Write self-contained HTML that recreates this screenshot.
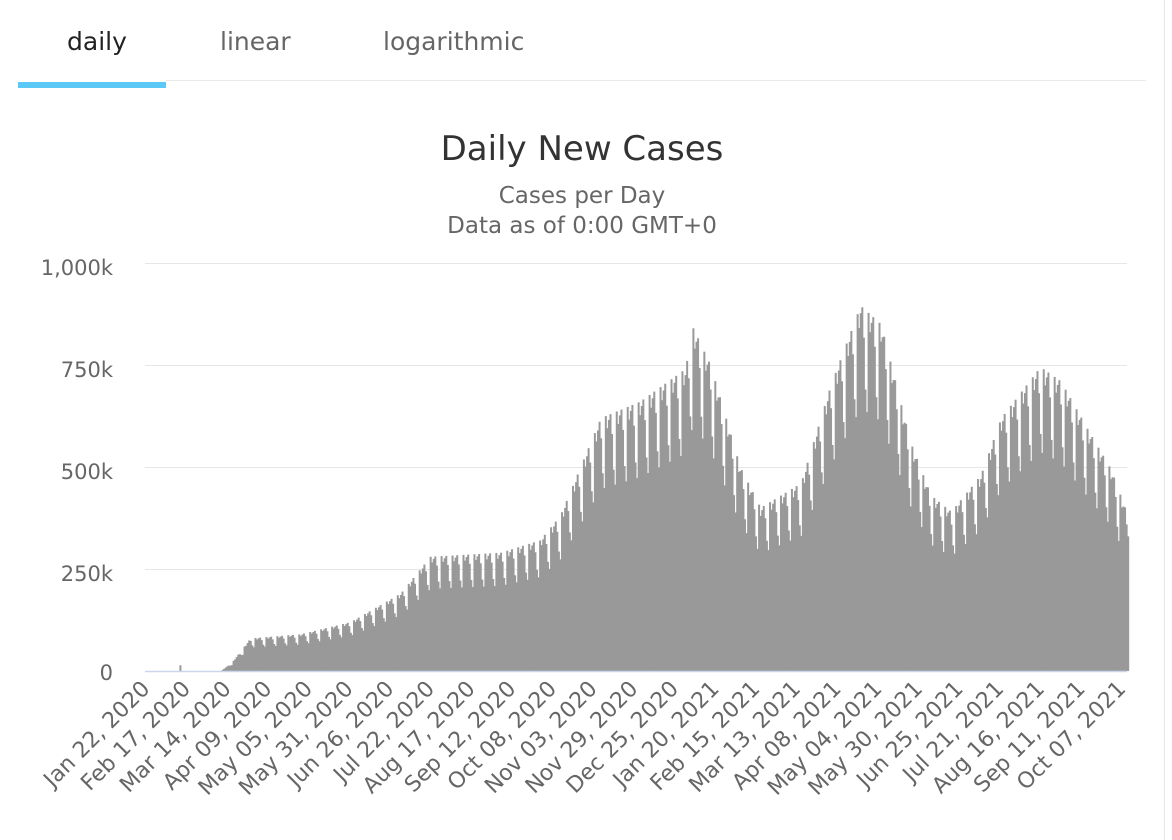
<!DOCTYPE html>
<html><head><meta charset="utf-8"><style>
html,body{margin:0;padding:0;background:#fff;width:1172px;height:840px;overflow:hidden;font-family:"DejaVu Sans","Liberation Sans",sans-serif}
.tab{position:absolute;top:27px;font-size:25px;color:#666}
</style></head><body>
<div class="tab" style="left:67px;color:#222">daily</div>
<div class="tab" style="left:220px">linear</div>
<div class="tab" style="left:383px">logarithmic</div>
<div style="position:absolute;left:166px;top:80px;width:980px;height:1px;background:#eaeaea"></div>
<div style="position:absolute;left:18px;top:82px;width:148px;height:6px;background:#5bc8f5"></div>
<div style="position:absolute;left:1164px;top:0;width:1px;height:840px;background:#e6e6e6"></div>
<svg id="s" width="1172" height="840" style="position:absolute;left:0;top:0" font-family="DejaVu Sans, Liberation Sans, sans-serif">
<text x="582" y="160" text-anchor="middle" font-size="34" fill="#333">Daily New Cases</text>
<text x="582" y="203" text-anchor="middle" font-size="23" fill="#666">Cases per Day</text>
<text x="582" y="233" text-anchor="middle" font-size="23" fill="#666">Data as of 0:00 GMT+0</text>
<g stroke="#e6e6e6" stroke-width="1">
<line x1="145" x2="1127" y1="263.5" y2="263.5"/><line x1="145" x2="1127" y1="365.5" y2="365.5"/>
<line x1="145" x2="1127" y1="467.5" y2="467.5"/><line x1="145" x2="1127" y1="569.5" y2="569.5"/>
</g>
<g font-size="21" fill="#666" text-anchor="end">
<text x="113" y="275">1,000k</text><text x="113" y="377">750k</text><text x="113" y="479">500k</text>
<text x="113" y="581">250k</text><text x="113" y="680">0</text>
</g>
<g id="bars" fill="#999"></g>
<line x1="145" x2="1127" y1="671.5" y2="671.5" stroke="#ccd6eb" stroke-width="1.5"/>
<g id="xl" font-size="22" fill="#666" text-anchor="end"></g>
</svg>
<script>
var k=[[0,0],[48,0],[55,20000],[67,80000],[99,90000],[131,120000],[163,190000],[182,280000],[227,290000],[252,320000],[265,380000],[278,500000],[291,620000],[316,660000],[345,740000],[350,840000],[361,750000],[380,500000],[393,400000],[419,460000],[438,700000],[457,895000],[470,850000],[489,560000],[502,430000],[515,390000],[534,480000],[547,620000],[572,745000],[585,710000],[604,580000],[617,495000],[628,380000]];
function env(d){for(var i=1;i<k.length;i++){if(d<=k[i][0]){var a=k[i-1],b=k[i];return a[1]+(b[1]-a[1])*(d-a[0])/(b[0]-a[0]);}}return 380000;}
var g=document.getElementById('bars'),h='',pw=1.564;
var dip=[0,0.05,0.02,0,0.08,0.22,0.28];
for(var d=0;d<=628;d++){var v=env(d)*(1-dip[d%7]);if(d==22)v=14000;if(d==628)v=330000;
var hh=v/1000000*408;if(hh<0.3)continue;h+='<rect x="'+(145+d*pw).toFixed(2)+'" y="'+(671-hh).toFixed(2)+'" width="2" height="'+hh.toFixed(2)+'"/>';}
g.innerHTML=h;
var labs=["Jan 22, 2020","Feb 17, 2020","Mar 14, 2020","Apr 09, 2020","May 05, 2020","May 31, 2020","Jun 26, 2020","Jul 22, 2020","Aug 17, 2020","Sep 12, 2020","Oct 08, 2020","Nov 03, 2020","Nov 29, 2020","Dec 25, 2020","Jan 20, 2021","Feb 15, 2021","Mar 13, 2021","Apr 08, 2021","May 04, 2021","May 30, 2021","Jun 25, 2021","Jul 21, 2021","Aug 16, 2021","Sep 11, 2021","Oct 07, 2021"];
var s='';for(var i=0;i<labs.length;i++){var x=151+i*26*pw;s+='<text transform="translate('+x.toFixed(1)+',690) rotate(-45)">'+labs[i]+'</text>';}
document.getElementById('xl').innerHTML=s;
</script>
</body></html>
